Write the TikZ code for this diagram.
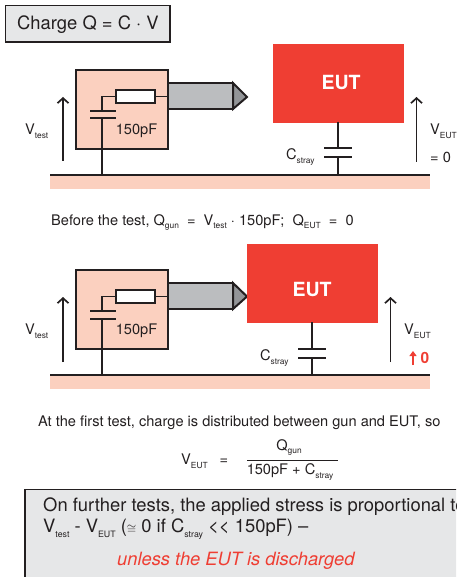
\documentclass[tikz,border=0pt]{standalone}
\usepackage{fontspec}
\setmainfont{TeX Gyre Heros}
\usetikzlibrary{arrows.meta,calc}
\definecolor{ink}{HTML}{231F20}
\definecolor{peach}{HTML}{FBD0BF}
\definecolor{panel}{HTML}{E6E7E8}
\definecolor{barrel}{HTML}{BBBDBF}
\definecolor{tipgrey}{HTML}{939598}
\definecolor{eutred}{HTML}{EF3E33}
\newcommand{\sbs}[1]{\raisebox{-0.5ex}{\fontsize{8.4}{10}\selectfont #1}}
\newcommand{\sbsl}[1]{\raisebox{-0.5ex}{\fontsize{8.8}{10}\selectfont #1}}
\tikzset{
  x=1pt,y=-1pt,
  every node/.style={text=ink,inner sep=0pt,font=\fontsize{14.6}{16}\selectfont},
  gunbox/.style={draw=ink,line width=2.4pt,fill=peach},
  barrelbox/.style={draw=ink,line width=2pt,fill=barrel},
  tipshape/.style={draw=ink,line width=2pt,fill=tipgrey,line join=miter},
  resistor/.style={draw=ink,line width=1.8pt,fill=white},
  wire/.style={draw=ink,line width=1.1pt},
  wirethick/.style={draw=ink,line width=1.4pt},
  plate/.style={draw=ink,line width=1.4pt},
  strayplate/.style={draw=ink,line width=2pt},
  straywire/.style={draw=ink,line width=2pt},
  ground/.style={fill=peach,draw=none},
  groundline/.style={draw=ink,line width=1.4pt},
  eutbox/.style={fill=eutred,draw=none},
  eutlabel/.style={text=white,font=\fontsize{19.5}{21}\selectfont\bfseries},
  volt/.style={draw=ink,line width=1.7pt,-{Straight Barb[length=5pt,width=11pt,line width=1.7pt]}},
  panelbox/.style={fill=panel,draw=ink,line width=1.7pt},
  biglabel/.style={font=\fontsize{18.4}{20}\selectfont},
  redtext/.style={text=eutred,font=\fontsize{18.3}{20}\selectfont\itshape},
}
\begin{document}
\begin{tikzpicture}
\useasboundingbox (0,0) rectangle (456,577);
\clip (0,0) rectangle (456,577);

% title
\path[panelbox] (5.5,5.5) rectangle (170,42);
\node[anchor=west,biglabel] (title) at (17,25) {Charge Q = C · V};

% ---- upper circuit
\fill[ground] (50,175) rectangle (430,189);
\coordinate (gndL1) at (50,175); \coordinate (gndR1) at (430,175);
\draw[groundline] (gndL1) -- (gndR1);
\path[barrelbox] (168,83) rectangle (233,109);
\coordinate (tipa1) at (233,83); \coordinate (tipb1) at (247,97); \coordinate (tipc1) at (233,109);
\draw[tipshape] (tipa1) -- (tipb1) -- (tipc1) -- cycle;
\path[gunbox] (76,70) rectangle (168,149);
\node[resistor,minimum width=39pt,minimum height=13pt] (res1) at (135.5,96.5) {};
\coordinate (jn1) at (102,96.5);
\coordinate (gunr1) at (168,96.5);
\coordinate (pa1) at (102,111); \coordinate (pb1) at (102,118);
\coordinate (gnd1) at (102,175);
\draw[wire] (res1.east) -- (gunr1);
\draw[wire] (res1.west) -- (jn1) -- (pa1);
\draw[plate] (90,111) -- (116,111);
\draw[plate] (90,118) -- (116,118);
\draw[wirethick] (pb1) -- (gnd1);
\node (pf1) at (136.5,131) {150pF};
\coordinate (va1) at (63,161); \coordinate (vb1) at (63,97);
\draw[volt] (va1) -- (vb1);
\node[anchor=west] (vt1) at (25,131) {V\sbs{test}};

\path[eutbox] (273,44) rectangle (404,123);
\node[eutlabel] (eut1) at (341,83) {EUT};
\coordinate (c1a) at (338,122); \coordinate (c1b) at (338,148.5);
\coordinate (c1c) at (338,157.5); \coordinate (c1d) at (338,175);
\draw[straywire] (c1a) -- (c1b);
\draw[straywire] (c1c) -- (c1d);
\draw[strayplate] (324,148.5) -- (352,148.5);
\draw[strayplate] (324,157.5) -- (352,157.5);
\node[anchor=west] (cs1) at (286,157) {C\sbs{stray}};
\coordinate (ve1a) at (416.5,162); \coordinate (ve1b) at (416.5,97);
\draw[volt] (ve1a) -- (ve1b);
\node[anchor=west] (ve1) at (430,131) {V\sbs{EUT}};
\node[anchor=west] (ez1) at (430,157) {= 0};

\node[anchor=west] (before) at (51,222.5) {Before the test, Q\sbs{gun}\ \ =\ \ V\sbs{test}\ · 150pF;\ \ Q\sbs{EUT}\ \ =\ \ 0};

% ---- lower circuit
\fill[ground] (50,375) rectangle (430,389);
\coordinate (gndL2) at (50,375); \coordinate (gndR2) at (430,375);
\draw[groundline] (gndL2) -- (gndR2);
\path[barrelbox] (168,283) rectangle (233,309);
\coordinate (tipa2) at (233,283); \coordinate (tipb2) at (247,296.5); \coordinate (tipc2) at (233,309);
\draw[tipshape] (tipa2) -- (tipb2) -- (tipc2) -- cycle;
\path[gunbox] (76,270) rectangle (168,349);
\node[resistor,minimum width=39pt,minimum height=13pt] (res2) at (135.5,296.5) {};
\coordinate (jn2) at (102,296.5);
\coordinate (gunr2) at (168,296.5);
\coordinate (pa2) at (102,311); \coordinate (pb2) at (102,319);
\coordinate (gnd2) at (102,375);
\draw[wire] (res2.east) -- (gunr2);
\draw[wire] (res2.west) -- (jn2) -- (pa2);
\draw[plate] (90,311) -- (116,311);
\draw[plate] (90,319) -- (116,319);
\draw[wirethick] (pb2) -- (gnd2);
\node (pf2) at (136.5,331) {150pF};
\coordinate (va2) at (63,362); \coordinate (vb2) at (63,297);
\draw[volt] (va2) -- (vb2);
\node[anchor=west] (vt2) at (25,331) {V\sbs{test}};

\path[eutbox] (247,244) rectangle (378,323);
\node[eutlabel] (eut2) at (312,289.5) {EUT};
\coordinate (c2a) at (312,322); \coordinate (c2b) at (312,348.5);
\coordinate (c2c) at (312,358); \coordinate (c2d) at (312,375);
\draw[straywire] (c2a) -- (c2b);
\draw[straywire] (c2c) -- (c2d);
\draw[strayplate] (298,348.5) -- (326,348.5);
\draw[strayplate] (298,358) -- (326,358);
\node[anchor=west] (cs2) at (260,358) {C\sbs{stray}};
\coordinate (ve2a) at (390.5,362); \coordinate (ve2b) at (390.5,297);
\draw[volt] (ve2a) -- (ve2b);
\node[anchor=west] (ve2) at (404,331) {V\sbs{EUT}};
\coordinate (ra) at (413,365); \coordinate (rb) at (413,351);
\draw[draw=eutred,line width=1.8pt,-{Triangle[length=5pt,width=7pt]}] (ra) -- (rb);
\node[anchor=west,text=eutred,font=\fontsize{15.5}{16}\selectfont\bfseries] (rz) at (420.5,357.5) {0};

\node[anchor=west] (first) at (38,422.5) {At the first test, charge is distributed between gun and EUT, so};

% formula
\node[anchor=west] (fv) at (181,461.5) {V\sbs{EUT}};
\node (feq) at (224,462) {=};
\node (fn) at (289,447.5) {Q\sbs{gun}};
\node (fd) at (290,472) {150pF + C\sbs{stray}};
\coordinate (fba) at (247,460.5); \coordinate (fbb) at (338,460.5);
\draw[draw=ink,line width=1.3pt] (fba) -- (fbb);

% bottom panel
\path[panelbox] (25,489.5) rectangle (470,590);
\node[anchor=west,biglabel] (l1) at (43,506.5) {On further tests, the applied stress is proportional to};
\node[anchor=west,biglabel] (l2) at (43,529) {V\sbsl{test} - V\sbsl{EUT} ({\fontsize{13}{14}\selectfont$\cong$} 0 if C\sbsl{stray} {<}{<} 150pF) --};
\node[anchor=west,redtext] (l3) at (117,561) {unless the EUT is discharged};
\end{tikzpicture}
\end{document}
